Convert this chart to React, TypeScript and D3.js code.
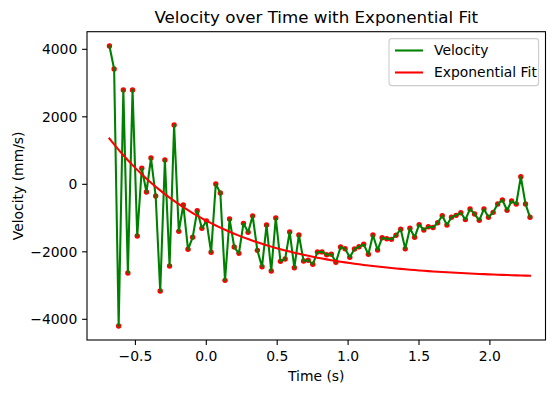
import React from "react";
import * as d3 from "d3";

const TIMES = [
  -0.683, -0.65, -0.618, -0.585, -0.553, -0.52, -0.487, -0.455, -0.422, -0.39,
  -0.357, -0.325, -0.292, -0.259, -0.227, -0.194, -0.162, -0.129, -0.096, -0.064,
  -0.031, 0.001, 0.034, 0.067, 0.099, 0.132, 0.164, 0.197, 0.23, 0.262,
  0.295, 0.327, 0.36, 0.393, 0.425, 0.458, 0.49, 0.523, 0.556, 0.588,
  0.621, 0.653, 0.686, 0.719, 0.751, 0.784, 0.816, 0.849, 0.882, 0.914,
  0.947, 0.979, 1.012, 1.045, 1.077, 1.11, 1.143, 1.175, 1.208, 1.24,
  1.273, 1.306, 1.338, 1.371, 1.403, 1.436, 1.469, 1.501, 1.534, 1.566,
  1.599, 1.632, 1.664, 1.697, 1.729, 1.762, 1.795, 1.827, 1.86, 1.892,
  1.925, 1.958, 1.99, 2.023, 2.055, 2.088, 2.121, 2.153, 2.186, 2.218,
  2.251, 2.283,
];

const VELOCITY = [
  4098, 3416, -4199, 2794, -2628, 2794, -1532, 474, -228, 779,
  -347, -3161, 720, -2421, 1757, -1393, -613, -1926, -1570, -782,
  -1304, -1087, -2015, 9, -258, -2845, -1028, -1858, -2045, -1156,
  -1422, -935, -1956, -2441, -1206, -2569, -999, -2282, -2213, -1413,
  -2471, -1502, -2273, -2252, -2370, -2006, -2003, -2085, -2070, -2311,
  -1858, -1908, -2163, -1917, -1849, -1778, -2074, -1502, -1947, -1582,
  -1612, -1630, -1511, -1330, -1912, -1304, -1570, -1195, -1354, -1256,
  -1280, -1140, -930, -1206, -978, -919, -841, -1045, -732, -880,
  -1067, -732, -978, -830, -584, -465, -770, -495, -584, 225,
  -580, -978,
];

// Exponential fit parameters: v = A * exp(-B * t) + C
const FIT_A = 1722;
const FIT_B = 1.29;
const FIT_C = -2800;

const X_TICKS = [-0.5, 0, 0.5, 1.0, 1.5, 2.0];
const X_TICK_LABELS = ["−0.5", "0.0", "0.5", "1.0", "1.5", "2.0"];
const Y_TICKS = [-4000, -2000, 0, 2000, 4000];
const Y_TICK_LABELS = ["−4000", "−2000", "0", "2000", "4000"];
const LEGEND_LABELS = ["Velocity", "Exponential Fit"];

const W = 560;
const H = 393;
const L = 87;
const R = 545.5;
const T = 31.7;
const B = 340;
const FONT = "DejaVu Sans, sans-serif";

export default function App() {
  const x = d3.scaleLinear().domain([-0.8413, 2.3921]).range([L, R]);
  const y = d3.scaleLinear().domain([-4613, 4522]).range([B, T]);

  const pts = TIMES.map((t, i) => [t, VELOCITY[i]] as [number, number]);
  const fitPts = TIMES.map((t) => [t, FIT_A * Math.exp(-FIT_B * t) + FIT_C] as [number, number]);

  const line = d3
    .line<[number, number]>()
    .x((d) => x(d[0]))
    .y((d) => y(d[1]));

  const legX0 = 389;
  const legX1 = 538.6;
  const legY0 = 38.6;
  const legY1 = 85.6;
  const rows = [50.5, 72.5];
  const colors = ["green", "red"];

  return (
    <svg
      width={W}
      height={H}
      style={{ position: "absolute", left: 0, top: 0, background: "white" }}
      fontFamily={FONT}
    >
      <rect x={0} y={0} width={W} height={H} fill="white" />
      <defs>
        <clipPath id="plotclip">
          <rect x={L} y={T} width={R - L} height={B - T} />
        </clipPath>
      </defs>
      <g clipPath="url(#plotclip)">
        {pts.map((d, i) => (
          <circle key={i} cx={x(d[0])} cy={y(d[1])} r={2.7} fill="red" />
        ))}
        <path d={line(pts) || ""} fill="none" stroke="green" strokeWidth={2.08} strokeLinejoin="round" strokeLinecap="square" />
        <path d={line(fitPts) || ""} fill="none" stroke="red" strokeWidth={2.08} strokeLinejoin="round" strokeLinecap="square" />
      </g>
      <rect x={L} y={T} width={R - L} height={B - T} fill="none" stroke="black" strokeWidth={1.1} />
      {X_TICKS.map((t, i) => (
        <g key={"x" + i}>
          <line x1={x(t)} x2={x(t)} y1={B} y2={B + 4.9} stroke="black" strokeWidth={1.1} />
          <text x={x(t)} y={360.5} textAnchor="middle" fontSize={13.9} fill="black">
            {X_TICK_LABELS[i]}
          </text>
        </g>
      ))}
      {Y_TICKS.map((v, i) => (
        <g key={"y" + i}>
          <line x1={L - 4.9} x2={L} y1={y(v)} y2={y(v)} stroke="black" strokeWidth={1.1} />
          <text x={L - 9.7} y={y(v)} dy="0.35em" textAnchor="end" fontSize={13.9} fill="black">
            {Y_TICK_LABELS[i]}
          </text>
        </g>
      ))}
      <text x={(L + R) / 2} y={381} textAnchor="middle" fontSize={13.9} fill="black">
        Time (s)
      </text>
      <text
        transform={`translate(22.5, ${(T + B) / 2}) rotate(-90)`}
        textAnchor="middle"
        fontSize={13.9}
        fill="black"
      >
        Velocity (mm/s)
      </text>
      <text x={(L + R) / 2} y={23.4} textAnchor="middle" fontSize={16.7} fill="black">
        Velocity over Time with Exponential Fit
      </text>
      <rect
        x={legX0}
        y={legY0}
        width={legX1 - legX0}
        height={legY1 - legY0}
        rx={2.8}
        fill="white"
        fillOpacity={0.8}
        stroke="#cccccc"
        strokeWidth={1.1}
      />
      {LEGEND_LABELS.map((lab, i) => (
        <g key={"leg" + i}>
          <line x1={legX0 + 6} x2={legX0 + 34} y1={rows[i]} y2={rows[i]} stroke={colors[i]} strokeWidth={2.08} />
          <text x={legX0 + 45} y={rows[i]} dy="0.35em" fontSize={13.9} fill="black">
            {lab}
          </text>
        </g>
      ))}
    </svg>
  );
}
